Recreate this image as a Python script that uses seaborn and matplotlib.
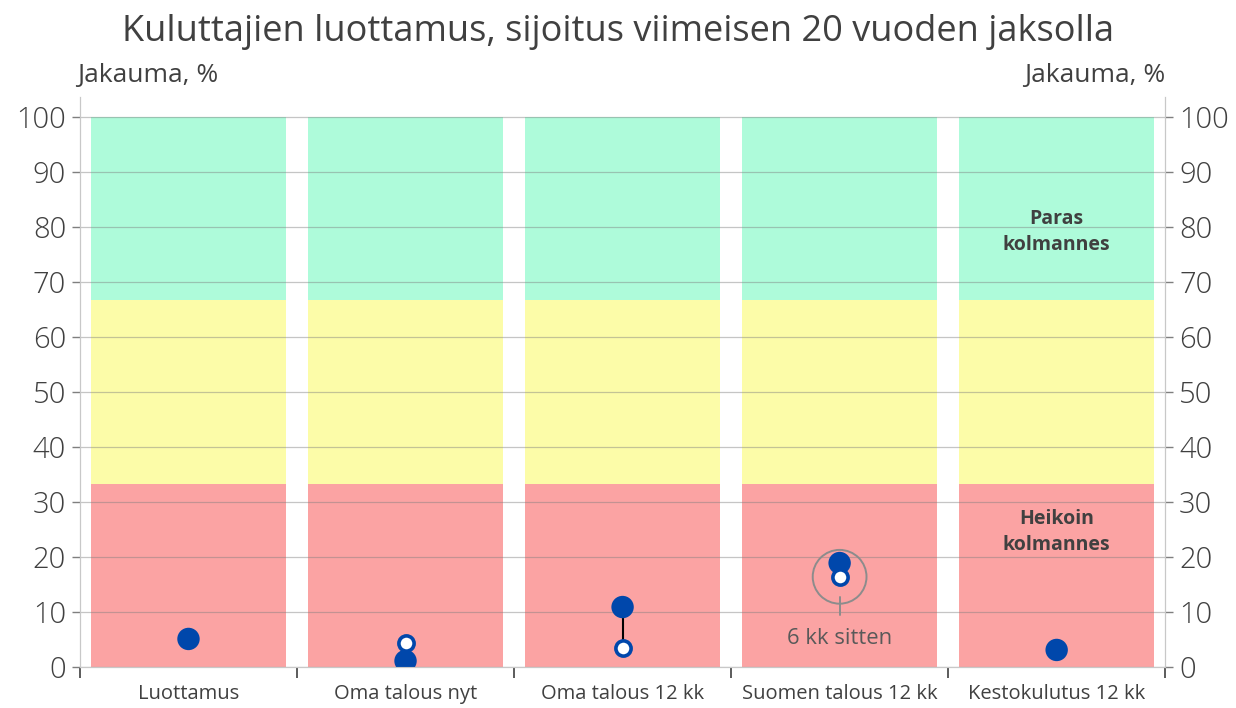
import numpy as np
import pandas as pd
import matplotlib
matplotlib.use("Agg")
import matplotlib.pyplot as plt
import seaborn as sns

# Data
categories = ["Luottamus", "Oma talous nyt", "Oma talous 12 kk", "Suomen talous 12 kk", "Kestokulutus 12 kk"]
current = [5.1, 1.1, 10.9, 18.9, 3.1]
six_months_ago = [np.nan, 4.4, 3.5, 16.4, np.nan]
thirds = [100 / 3, 100 / 3, 100 / 3]
band_colors = ["#FBA3A3", "#FCFCA8", "#AEFBDA"]
yticks = list(range(0, 101, 10))

sns.set_style("white")
plt.rcParams["font.family"] = ["Open Sans", "DejaVu Sans"]

df = pd.DataFrame({"cat": categories, "now": current, "prev": six_months_ago})

fig = plt.figure(figsize=(12.36, 7.08), dpi=100)
ax = fig.add_axes([0.0647, 0.0579, 0.878, 0.805])

# stacked background bands
bottom = 0
for h, c in zip(thirds, band_colors):
    sns.barplot(x=df["cat"], y=[h] * len(df), bottom=bottom, color=c, width=0.9,
                saturation=1, linewidth=0, ax=ax, zorder=1)
    bottom += h

ax.set_xlim(-0.5, 4.5)
ax.set_ylim(0, 103.6)

# gridlines over the bands
for t in yticks:
    ax.axhline(t, color="#7f7f7f", lw=0.9, alpha=0.45, zorder=2)

# connectors
xs = np.arange(len(categories))
for x, a, b in zip(xs, current, six_months_ago):
    if not np.isnan(b):
        ax.plot([x, x], [a, b], color="black", lw=1.5, zorder=3)

sns.scatterplot(x=xs, y=current, s=260, color="#0047AB", edgecolor="none", ax=ax, zorder=4)
sns.scatterplot(x=xs, y=six_months_ago, s=120, color="white", edgecolor="#0047AB",
                linewidth=2.6, ax=ax, zorder=5)

# annotation for previous value
ax.scatter([3], [six_months_ago[3]], s=1500, facecolor="none", edgecolor="#8c8c8c",
           linewidth=1.4, zorder=6)
ax.plot([3, 3], [six_months_ago[3] - 3.7, 9.5], color="#8c8c8c", lw=1.4, zorder=6)
ax.text(3, 5.1, "6 kk sitten", ha="center", va="center", fontsize=15.8, color="#595959", zorder=6)

ax.text(4, 79, "Paras\nkolmannes", ha="center", va="center", fontsize=14,
        fontweight="bold", color="#404040", linespacing=1.4, zorder=6)
ax.text(4, 24.5, "Heikoin\nkolmannes", ha="center", va="center", fontsize=14,
        fontweight="bold", color="#404040", linespacing=1.4, zorder=6)

# axes styling
ax.set_xlabel("")
ax.set_ylabel("")
ax.set_yticks(yticks)
ax.set_yticklabels([str(t) for t in yticks], fontsize=21, color="#404040", fontweight="light")
ax.tick_params(axis="y", which="major", left=True, length=6, width=1, color="#7f7f7f", pad=4)
ax.set_xticks(xs)
ax.set_xticklabels(categories, fontsize=14.5, color="#404040")
ax.tick_params(axis="x", which="major", bottom=False, pad=9)
ax.set_xticks(np.arange(-0.5, 4.6, 1), minor=True)
ax.tick_params(axis="x", which="minor", bottom=True, length=8, width=1.2, color="#404040")
for s in ["left", "right", "bottom"]:
    ax.spines[s].set_color("#c8c8c8")
ax.spines["top"].set_visible(False)

ax2 = ax.twinx()
ax2.set_ylim(ax.get_ylim())
ax2.set_yticks(yticks)
ax2.set_yticklabels([str(t) for t in yticks], fontsize=21, color="#404040", fontweight="light")
ax2.tick_params(axis="y", right=True, length=6, width=1, color="#7f7f7f", pad=4)
for s in ["left", "right", "bottom"]:
    ax2.spines[s].set_color("#c8c8c8")
ax2.spines["top"].set_visible(False)

fig.text(0.5, 0.955, "Kuluttajien luottamus, sijoitus viimeisen 20 vuoden jaksolla",
         ha="center", va="center", fontsize=26, color="#404040")
fig.text(0.062, 0.894, "Jakauma, %", ha="left", va="center", fontsize=19, color="#404040")
fig.text(0.943, 0.894, "Jakauma, %", ha="right", va="center", fontsize=19, color="#404040")

fig.savefig("out.png", dpi=100)
